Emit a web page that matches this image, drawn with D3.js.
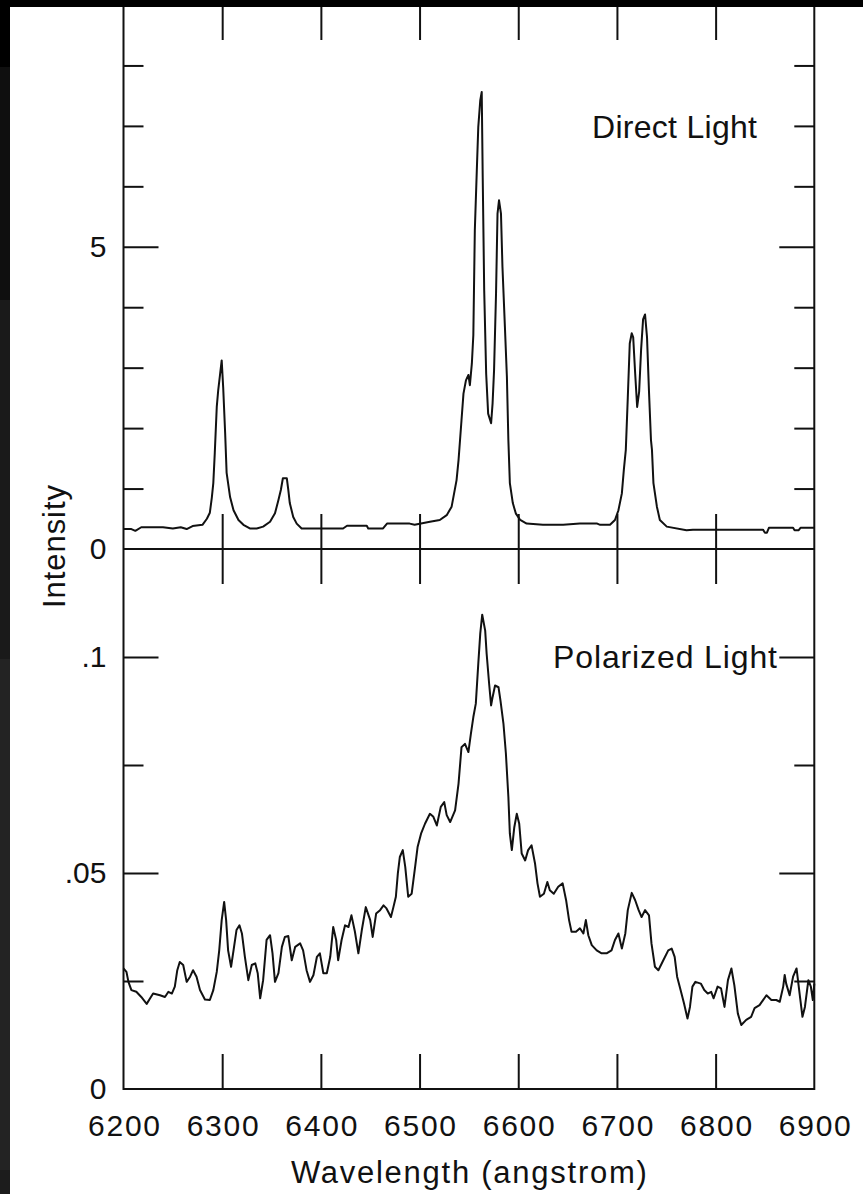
<!DOCTYPE html>
<html>
<head>
<meta charset="utf-8">
<script src="https://cdn.jsdelivr.net/npm/d3@7"></script>
<style>
  body { margin: 0; background: #fff; }
  svg { display: block; font-family: "Liberation Sans", Arial, sans-serif; }
</style>
</head>
<body>
<div id="chart"></div>
<script>
// spectrum values (wavelength in angstrom)
const directWave = [6200,6208,6212,6218,6240,6250,6258,6264,6270,6280,6284.5,6287.5,6289.5,6291,6292.5,6294.5,6296,6298,6299.5,6301,6303,6304.5,6308,6311.5,6316.5,6321.5,6328,6335,6341.5,6348.5,6353.5,6357,6359.5,6361.5,6365.5,6367,6368.5,6372,6375.5,6380.5,6422.5,6426.5,6446.5,6448,6463,6467,6490,6495,6510.5,6520.5,6527.5,6532.5,6535,6537.5,6539.5,6541,6542.5,6544.5,6547,6549.5,6551,6553,6554.5,6556,6558,6559.5,6561.5,6563,6564,6565.5,6567.5,6569.5,6572.5,6574,6575.5,6577.5,6579,6580.5,6582.5,6584,6586.5,6588.5,6590,6591.5,6594.5,6597.5,6602,6608.5,6625,6645.5,6662.5,6680,6683,6693,6698,6701.5,6705,6707,6709,6711,6713,6715,6716.5,6718.5,6720.5,6722.5,6724.5,6726.5,6728.5,6730.5,6732.5,6734.5,6735.5,6737,6740.5,6743.5,6750.5,6770.5,6777,6848,6850,6852,6854,6878.5,6880,6884,6886,6900];
const directFlux = [0.33,0.33,0.30,0.36,0.36,0.34,0.36,0.33,0.38,0.40,0.50,0.60,0.85,1.09,1.59,2.35,2.63,2.91,3.12,2.68,1.92,1.26,0.86,0.64,0.48,0.40,0.34,0.34,0.37,0.45,0.59,0.81,0.98,1.17,1.17,0.98,0.76,0.53,0.42,0.34,0.34,0.385,0.385,0.34,0.34,0.42,0.42,0.40,0.45,0.48,0.56,0.70,0.92,1.14,1.47,1.80,2.13,2.57,2.79,2.88,2.71,3.07,3.54,5.27,6.26,6.98,7.42,7.56,6.15,4.28,2.90,2.24,2.08,2.41,2.96,4.23,5.55,5.77,5.55,4.67,3.67,2.85,1.80,1.09,0.76,0.59,0.48,0.42,0.40,0.40,0.42,0.42,0.40,0.40,0.48,0.64,0.92,1.31,1.64,2.50,3.40,3.57,3.50,2.90,2.35,2.60,3.30,3.80,3.88,3.50,2.60,1.80,1.64,1.09,0.70,0.48,0.37,0.31,0.32,0.32,0.27,0.27,0.35,0.35,0.31,0.31,0.35,0.35];

const polWave = [6200,6203,6205,6208,6213,6218,6223.5,6227,6230,6237,6242,6245.5,6249,6252,6254.5,6257,6260.5,6264,6267.5,6270.5,6274,6277.5,6282.5,6287.5,6291,6294.5,6297,6299.5,6302,6304,6306,6309,6311.5,6314.5,6317.5,6320,6323,6326.5,6330,6333.5,6336,6338.5,6341.5,6345,6348.5,6351,6353.5,6357,6360.5,6363.5,6367,6370.5,6374,6379,6382,6385.5,6389,6392.5,6396,6399,6402.5,6406,6409.5,6412.5,6415.5,6417.5,6421,6424.5,6428,6431,6434.5,6438,6441.5,6445.5,6450,6452.5,6456,6460,6463.5,6466.5,6471,6473.5,6476,6478,6480,6483,6485.5,6488.5,6492,6495.5,6498,6501.5,6505.5,6510.5,6514,6517.5,6521.5,6525,6527.5,6531,6536,6539.5,6542.5,6546,6549.5,6552,6554.5,6557,6559.5,6561.5,6563.5,6566.5,6568,6570.5,6572.5,6574,6576.5,6580,6582,6585,6587.5,6590,6591.5,6593.5,6596,6598.5,6601,6603.5,6607,6610,6613.5,6617,6619.5,6622,6626,6629.5,6632,6636,6640.5,6645,6648.5,6651.5,6654,6658.5,6662.5,6666,6668.5,6671,6674.5,6679.5,6684.5,6689.5,6694.5,6698,6701.5,6705,6708.5,6711,6715,6718.5,6722,6725,6728.5,6732.5,6735,6738.5,6742,6747,6752,6755.5,6758.5,6761,6764.5,6768,6771.5,6774,6776.5,6779.5,6785,6788.5,6792,6795.5,6798,6802,6805.5,6809,6812.5,6816,6819,6822.5,6826,6831,6836,6839.5,6844.5,6851.5,6856.5,6861.5,6865,6868.5,6870,6871.5,6875,6878.5,6882,6885.5,6888,6890.5,6894,6896.5,6898.5,6900];
const polFlux = [0.0279,0.0271,0.0248,0.0229,0.0225,0.0213,0.0197,0.0210,0.0221,0.0217,0.0213,0.0225,0.0221,0.0237,0.0275,0.0294,0.0287,0.0248,0.0260,0.0275,0.0260,0.0229,0.0207,0.0206,0.0229,0.0271,0.0321,0.0391,0.0433,0.0391,0.0321,0.0283,0.0321,0.0368,0.0379,0.0360,0.0306,0.0252,0.0287,0.0291,0.0268,0.0210,0.0252,0.0345,0.0356,0.0314,0.0248,0.0268,0.0329,0.0352,0.0354,0.0298,0.0329,0.0337,0.0321,0.0275,0.0248,0.0264,0.0306,0.0314,0.0268,0.0268,0.0306,0.0375,0.0345,0.0298,0.0345,0.0379,0.0375,0.0402,0.0364,0.0314,0.0368,0.0421,0.0391,0.0352,0.0406,0.0414,0.0425,0.0418,0.0398,0.0421,0.0445,0.0499,0.0537,0.0553,0.0514,0.0445,0.0452,0.0514,0.0560,0.0591,0.0614,0.0637,0.0630,0.0610,0.0653,0.0664,0.0634,0.0618,0.0645,0.0707,0.0791,0.0799,0.0780,0.0822,0.0861,0.0892,0.0984,0.1054,0.1098,0.1061,0.1007,0.0938,0.0888,0.0907,0.0934,0.0930,0.0899,0.0846,0.0776,0.0676,0.0591,0.0553,0.0606,0.0637,0.0614,0.0545,0.0529,0.0553,0.0564,0.0522,0.0476,0.0445,0.0452,0.0479,0.0460,0.0452,0.0468,0.0476,0.0437,0.0391,0.0364,0.0364,0.0372,0.0360,0.0391,0.0356,0.0333,0.0321,0.0314,0.0314,0.0321,0.0345,0.0360,0.0325,0.0360,0.0414,0.0454,0.0437,0.0414,0.0398,0.0414,0.0402,0.0337,0.0283,0.0275,0.0298,0.0321,0.0325,0.0306,0.0260,0.0229,0.0198,0.0163,0.0190,0.0237,0.0248,0.0244,0.0229,0.0221,0.0225,0.0210,0.0237,0.0233,0.0190,0.0252,0.0279,0.0240,0.0175,0.0148,0.0160,0.0167,0.0187,0.0194,0.0217,0.0206,0.0206,0.0202,0.0237,0.0264,0.0244,0.0217,0.0260,0.0279,0.0213,0.0167,0.0190,0.0252,0.0237,0.0206,0.0244];

// ticks
const xLabels = [6200,6300,6400,6500,6600,6700,6800,6900];
const xInner = [6300,6400,6500,6600,6700,6800];
const topLabels = [0,5];
const topMajor = [5];
const topMinor = [1,2,3,4,6,7,8];
const botLabels = [0,0.05,0.1];
const botMajor = [0.05,0.1];
const botMinor = [0.025,0.075];

const width = 863, height = 1194;
const frame = {left: 123.5, right: 814.3, top: 5, mid: 549, bottom: 1089};

const svg = d3.select("#chart").append("svg")
    .attr("width", width)
    .attr("height", height);

svg.append("rect").attr("width", width).attr("height", height).attr("fill", "#fff");

const x = d3.scaleLinear().domain([6200, 6900]).range([frame.left, frame.right]);
const yTop = d3.scaleLinear().domain([0, 9]).range([frame.mid, frame.top]);
const yBot = d3.scaleLinear().domain([0, 0.125]).range([frame.bottom, frame.mid]);

const ink = "#111";

function addAxis(axis, tx, ty) {
    const g = svg.append("g")
        .attr("transform", `translate(${tx},${ty})`)
        .call(axis);
    g.select(".domain").remove();
    g.selectAll("line").attr("stroke", ink).attr("stroke-width", 2);
    g.selectAll("text")
        .attr("fill", ink)
        .style("font-size", "30px")
        .style("font-family", "'Liberation Sans', Arial, sans-serif");
    return g;
}

const none = () => "";

// inward ticks on the left and right edges
addAxis(d3.axisRight(yTop).tickValues(topMinor).tickSize(20).tickFormat(none), frame.left, 0);
addAxis(d3.axisRight(yTop).tickValues(topMajor).tickSize(35).tickFormat(none), frame.left, 0);
addAxis(d3.axisLeft(yTop).tickValues(topMinor).tickSize(20).tickFormat(none), frame.right, 0);
addAxis(d3.axisLeft(yTop).tickValues(topMajor).tickSize(35).tickFormat(none), frame.right, 0);
addAxis(d3.axisRight(yBot).tickValues(botMinor).tickSize(20).tickFormat(none), frame.left, 0);
addAxis(d3.axisRight(yBot).tickValues(botMajor).tickSize(35).tickFormat(none), frame.left, 0);
addAxis(d3.axisLeft(yBot).tickValues(botMinor).tickSize(20).tickFormat(none), frame.right, 0);
addAxis(d3.axisLeft(yBot).tickValues(botMajor).tickSize(35).tickFormat(none), frame.right, 0);

// x ticks: top, middle (both ways), bottom
addAxis(d3.axisBottom(x).tickValues(xInner).tickSize(35).tickFormat(none), 0, frame.top);
addAxis(d3.axisTop(x).tickValues(xInner).tickSize(35).tickFormat(none), 0, frame.mid);
addAxis(d3.axisBottom(x).tickValues(xInner).tickSize(35).tickFormat(none), 0, frame.mid);
addAxis(d3.axisTop(x).tickValues(xInner).tickSize(35).tickFormat(none), 0, frame.bottom);

// tick labels
addAxis(d3.axisLeft(yTop).tickValues(topLabels).tickSize(0).tickPadding(17)
    .tickFormat(d3.format("d")), frame.left, 0);
addAxis(d3.axisLeft(yBot).tickValues(botLabels).tickSize(0).tickPadding(17)
    .tickFormat(d => d === 0 ? "0" : d3.format(".2~f")(d).replace(/^0/, "")), frame.left, 0);
addAxis(d3.axisBottom(x).tickValues(xLabels).tickSize(0).tickPadding(26)
    .tickFormat(d3.format("d")), 0, frame.bottom)
    .selectAll("text").attr("textLength", 72).attr("lengthAdjust", "spacing");

// frame and panel divider
svg.append("rect")
    .attr("x", frame.left).attr("y", frame.top)
    .attr("width", frame.right - frame.left).attr("height", frame.bottom - frame.top)
    .attr("fill", "none").attr("stroke", ink).attr("stroke-width", 2);
svg.append("line")
    .attr("x1", frame.left).attr("x2", frame.right)
    .attr("y1", yTop(0)).attr("y2", yTop(0))
    .attr("stroke", ink).attr("stroke-width", 2);

// spectra
const direct = directWave.map((w, i) => ({w, v: directFlux[i]}));
const polar = polWave.map((w, i) => ({w, v: polFlux[i]}));

svg.append("path")
    .datum(direct)
    .attr("d", d3.line().x(d => x(d.w)).y(d => yTop(d.v)))
    .attr("fill", "none").attr("stroke", ink).attr("stroke-width", 2)
    .attr("stroke-linejoin", "round");

svg.append("path")
    .datum(polar)
    .attr("d", d3.line().x(d => x(d.w)).y(d => yBot(d.v)))
    .attr("fill", "none").attr("stroke", ink).attr("stroke-width", 2)
    .attr("stroke-linejoin", "round");

// labels
const txt = (s, tx, ty, size, len, anchor) => svg.append("text")
    .attr("x", tx).attr("y", ty)
    .attr("text-anchor", anchor || "start")
    .attr("textLength", len).attr("lengthAdjust", "spacing")
    .style("font-size", size + "px")
    .attr("fill", ink)
    .text(s);

txt("Direct Light", 592, 138, 32, 165);
txt("Polarized Light", 553, 668, 32, 224);
txt("Wavelength (angstrom)", (frame.left + frame.right) / 2, 1183, 31, 356, "middle");
txt("Intensity", 0, 0, 31, 123, "middle")
    .attr("transform", "translate(65,546.5) rotate(-90)");

// dark surround of the scanned figure
svg.append("rect").attr("x", 0).attr("y", 0).attr("width", width).attr("height", 7).attr("fill", "#000");
svg.append("rect").attr("x", 0).attr("y", 0).attr("width", 10).attr("height", 67).attr("fill", "#000");
svg.append("rect").attr("x", 0).attr("y", 67).attr("width", 10).attr("height", 233).attr("fill", "#0f0f0f");
svg.append("rect").attr("x", 0).attr("y", 300).attr("width", 10).attr("height", 359).attr("fill", "#1a1a1a");
svg.append("rect").attr("x", 0).attr("y", 659).attr("width", 10).attr("height", 511).attr("fill", "#232323");
svg.append("rect").attr("x", 0).attr("y", 1170).attr("width", 10).attr("height", 24).attr("fill", "#1c1c1c");
</script>
</body>
</html>
